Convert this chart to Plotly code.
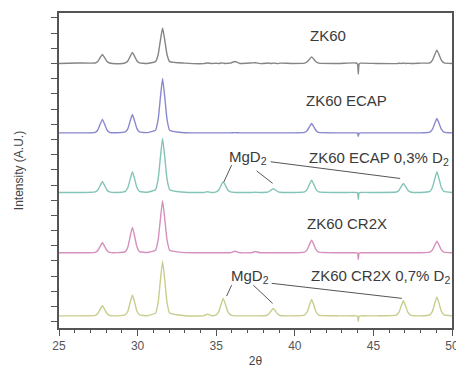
import plotly.graph_objects as go

# shared 2-theta sample points
two_theta = [25.0, 26.2,
             27.31, 27.48, 27.62, 27.76, 27.9, 28.04, 28.21,
             28.7,
             29.22, 29.39, 29.53, 29.67, 29.81, 29.95, 30.12,
             30.6,
             31.14, 31.31, 31.45, 31.59, 31.73, 31.87, 32.04,
             33.0, 34.2, 34.45, 34.7,
             35.0, 35.17, 35.31, 35.45, 35.59, 35.73, 35.9,
             36.2, 36.5, 37.2, 37.5, 37.8,
             38.18, 38.35, 38.49, 38.63, 38.77, 38.91, 39.08,
             39.8,
             40.62, 40.79, 40.93, 41.07, 41.21, 41.35, 41.52,
             42.8, 43.9, 43.99, 44.04, 44.09, 44.18, 45.2,
             46.46, 46.63, 46.77, 46.91, 47.05, 47.19, 47.36,
             48.0,
             48.59, 48.76, 48.9, 49.04, 49.18, 49.32, 49.49,
             50.0]

zk60 = [17.0, 17.03,
        17.03, 17.15, 17.38, 17.59, 17.38, 17.15, 17.03,
        16.98,
        17.04, 17.18, 17.47, 17.72, 17.47, 17.18, 17.04,
        17.0,
        17.12, 17.59, 18.52, 19.34, 18.52, 17.59, 17.12,
        17.02, 16.99, 17.03, 17.0,
        17.01, 17.0, 17.03, 17.02, 17.0, 17.01, 17.02,
        17.13, 17.0, 17.03, 17.05, 16.99,
        17.01, 17.03, 17.0, 17.02, 17.01, 16.99, 17.02,
        17.0,
        17.02, 17.11, 17.28, 17.43, 17.28, 17.11, 17.02,
        17.0, 17.03, 16.96, 16.3, 16.96, 17.02, 17.0,
        16.99, 17.01, 17.0, 17.02, 17.0, 17.01, 17.0,
        17.02,
        17.04, 17.22, 17.57, 17.88, 17.57, 17.22, 17.04,
        17.0]

zk60_ecap = [12.43, 12.43,
             12.47, 12.65, 13.01, 13.32, 13.01, 12.65, 12.47,
             12.44,
             12.49, 12.73, 13.22, 13.64, 13.22, 12.73, 12.49,
             12.45,
             12.61, 13.33, 14.76, 16.01, 14.76, 13.33, 12.61,
             12.44, 12.43, 12.43, 12.43,
             12.43, 12.43, 12.43, 12.43, 12.43, 12.43, 12.43,
             12.45, 12.43, 12.43, 12.43, 12.43,
             12.43, 12.43, 12.43, 12.43, 12.43, 12.43, 12.43,
             12.43,
             12.46, 12.59, 12.83, 13.05, 12.83, 12.59, 12.46,
             12.43, 12.43, 12.42, 12.2, 12.42, 12.43, 12.43,
             12.43, 12.43, 12.43, 12.43, 12.43, 12.43, 12.43,
             12.43,
             12.48, 12.67, 13.05, 13.38, 13.05, 12.67, 12.48,
             12.43]

zk60_ecap_d2 = [8.51, 8.51,
                8.55, 8.69, 8.97, 9.21, 8.97, 8.69, 8.55,
                8.51,
                8.58, 8.85, 9.39, 9.87, 9.39, 8.85, 8.58,
                8.52,
                8.69, 9.4, 10.82, 12.07, 10.82, 9.4, 8.69,
                8.52, 8.51, 8.56, 8.51,
                8.55, 8.69, 8.97, 9.21, 8.97, 8.69, 8.55,
                8.51, 8.51, 8.51, 8.52, 8.51,
                8.52, 8.57, 8.67, 8.76, 8.67, 8.57, 8.52,
                8.51,
                8.55, 8.71, 9.04, 9.32, 9.04, 8.71, 8.55,
                8.51, 8.51, 8.49, 8.05, 8.49, 8.51, 8.51,
                8.54, 8.66, 8.89, 9.1, 8.89, 8.66, 8.54,
                8.51,
                8.58, 8.85, 9.39, 9.87, 9.39, 8.85, 8.58,
                8.51]

zk60_cr2x = [4.54, 4.54,
             4.57, 4.71, 4.97, 5.2, 4.97, 4.71, 4.57,
             4.55,
             4.62, 4.96, 5.63, 6.21, 5.63, 4.96, 4.62,
             4.56,
             4.71, 5.4, 6.76, 7.96, 6.76, 5.4, 4.71,
             4.55, 4.54, 4.54, 4.54,
             4.54, 4.54, 4.54, 4.54, 4.54, 4.54, 4.54,
             4.64, 4.54, 4.54, 4.62, 4.54,
             4.54, 4.54, 4.54, 4.54, 4.54, 4.54, 4.54,
             4.54,
             4.58, 4.75, 5.08, 5.37, 5.08, 4.75, 4.58,
             4.54, 4.54, 4.52, 4.1, 4.52, 4.54, 4.54,
             4.54, 4.54, 4.54, 4.54, 4.54, 4.54, 4.54,
             4.54,
             4.58, 4.73, 5.04, 5.31, 5.04, 4.73, 4.58,
             4.54]

zk60_cr2x_d2 = [0.39, 0.39,
                0.42, 0.56, 0.82, 1.05, 0.82, 0.56, 0.42,
                0.39,
                0.46, 0.73, 1.28, 1.76, 1.28, 0.73, 0.46,
                0.4,
                0.57, 1.29, 2.73, 3.99, 2.73, 1.29, 0.57,
                0.4, 0.39, 0.5, 0.4,
                0.45, 0.68, 1.14, 1.54, 1.14, 0.68, 0.45,
                0.39, 0.39, 0.39, 0.39, 0.39,
                0.41, 0.51, 0.71, 0.88, 0.71, 0.51, 0.41,
                0.39,
                0.44, 0.66, 1.09, 1.47, 1.09, 0.66, 0.44,
                0.39, 0.39, 0.37, 0.03, 0.37, 0.39, 0.39,
                0.44, 0.64, 1.03, 1.38, 1.03, 0.64, 0.44,
                0.39,
                0.45, 0.7, 1.2, 1.64, 1.2, 0.7, 0.45,
                0.39]

series_names = ["ZK60", "ZK60 ECAP", "ZK60 ECAP 0,3% D2", "ZK60 CR2X", "ZK60 CR2X 0,7% D2"]
series_values = [zk60, zk60_ecap, zk60_ecap_d2, zk60_cr2x, zk60_cr2x_d2]
series_colors = ["#858585", "#8a88cc", "#84c4b8", "#d690bd", "#c9cd8e"]

# text labels
label_texts = ["ZK60", "ZK60 ECAP", "ZK60 ECAP 0,3% D<sub>2</sub>", "ZK60 CR2X",
               "ZK60 CR2X 0,7% D<sub>2</sub>", "MgD<sub>2</sub>", "MgD<sub>2</sub>"]
label_x = [42.1, 43.3, 40.8, 43.3, 40.9, 35.7, 35.8]
label_y = [18.86, 14.59, 10.76, 6.47, 3.0, 10.84, 3.0]
label_anchor = ["center", "center", "left", "center", "left", "left", "left"]

# MgD2 leader lines (x0, y0, x1, y1)
leader_x0 = [35.98, 37.57, 38.46, 35.98, 37.36, 38.53]
leader_y0 = [10.31, 9.93, 10.53, 2.41, 2.41, 2.53]
leader_x1 = [35.49, 38.59, 46.70, 35.66, 38.59, 46.81]
leader_y1 = [9.21, 9.11, 9.43, 1.69, 1.21, 1.54]

y_ticks = list(range(0, 21))
x_ticks = [25, 30, 35, 40, 45, 50]

fig = go.Figure()
for name, vals, col in zip(series_names, series_values, series_colors):
    assert len(vals) == len(two_theta), name
    fig.add_trace(go.Scatter(x=two_theta, y=vals, mode="lines", name=name,
                             line=dict(color=col, width=1.4, shape="spline", smoothing=0.4),
                             hoverinfo="skip"))

for x0, y0, x1, y1 in zip(leader_x0, leader_y0, leader_x1, leader_y1):
    fig.add_trace(go.Scatter(x=[x0, x1], y=[y0, y1], mode="lines",
                             line=dict(color="#555555", width=1), hoverinfo="skip"))

for t, x, y, a in zip(label_texts, label_x, label_y, label_anchor):
    fig.add_annotation(x=x, y=y, text=t, showarrow=False, xanchor=a, yanchor="middle",
                       font=dict(family="Liberation Sans, Arial", size=15, color="#3a3a3a"))

fig.update_layout(
    width=456, height=374,
    margin=dict(l=59, r=4, t=13, b=46),
    paper_bgcolor="white", plot_bgcolor="white",
    showlegend=False,
    font=dict(family="Liberation Sans, Arial", color="#444444"),
)
fig.update_xaxes(range=[25, 50], tickvals=x_ticks, ticks="outside", ticklen=6, tickwidth=1.2,
                 tickcolor="#555555", ticklabeloverflow="allow", automargin=False,
                 minor=dict(dtick=1, ticks="outside", ticklen=3, tickcolor="#555555"),
                 showline=True, linecolor="#555555", linewidth=1.5, mirror=True,
                 showgrid=False, zeroline=False,
                 tickfont=dict(size=12, color="#555555"),
                 title=dict(text="2θ", font=dict(size=12, color="#444444"), standoff=4))
fig.update_yaxes(range=[-0.41, 20.32], tickvals=y_ticks, ticks="outside", ticklen=6,
                 tickwidth=1.2, tickcolor="#555555", showticklabels=False, automargin=False,
                 showline=True, linecolor="#555555", linewidth=1.5, mirror=True,
                 showgrid=False, zeroline=False,
                 title=dict(text="Intensity (A.U.)", font=dict(size=12, color="#444444"),
                            standoff=25))

fig.write_html("out.html", config={"displayModeBar": False},
               post_script="document.body.style.margin='0';document.body.style.overflow='hidden';")
